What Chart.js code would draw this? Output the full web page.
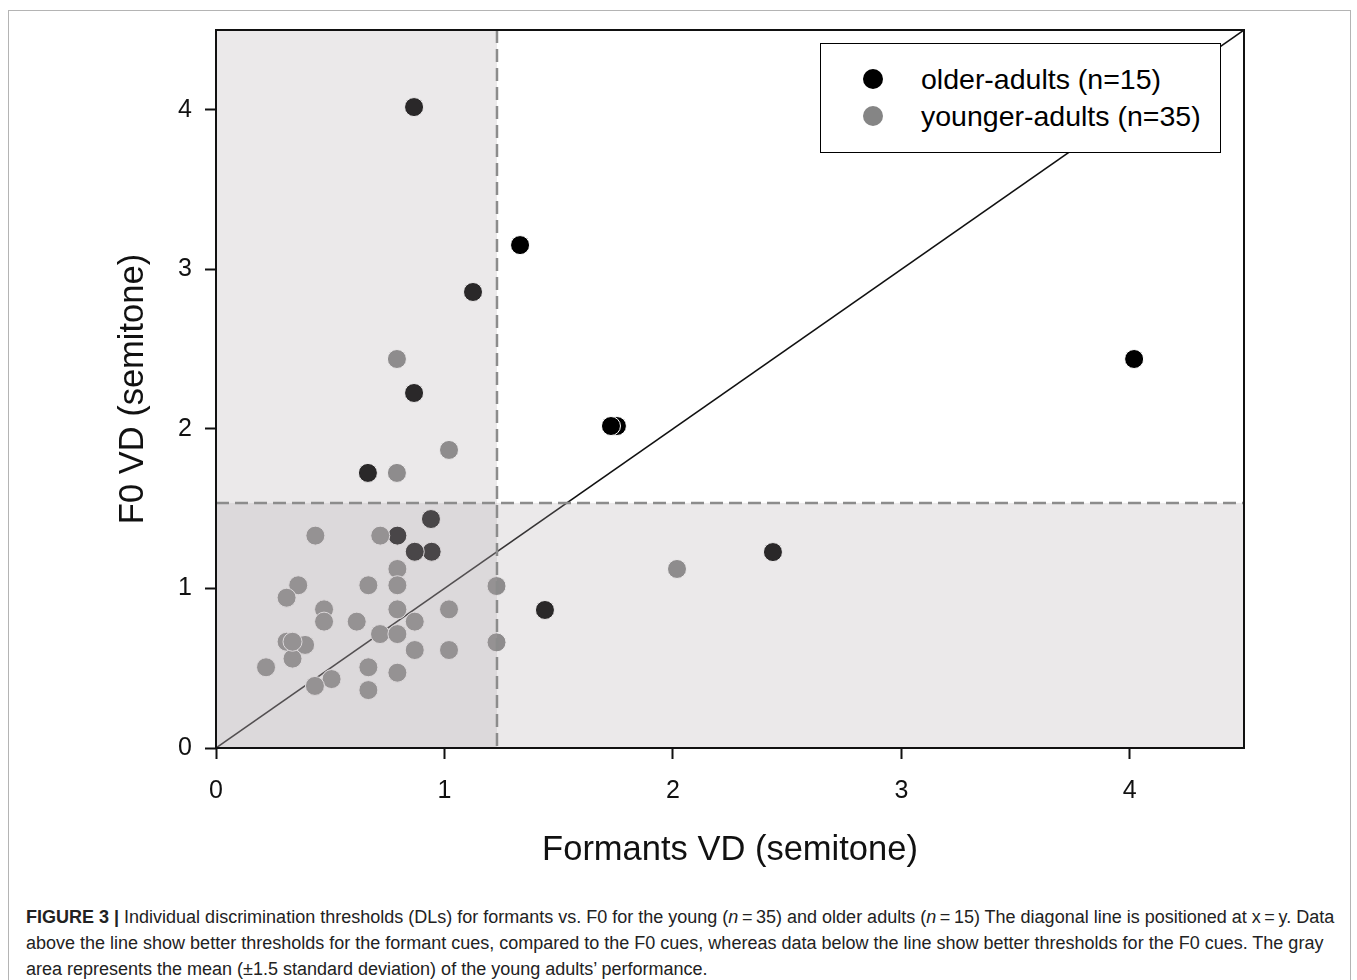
<!DOCTYPE html>
<html><head><meta charset="utf-8">
<script src="https://cdn.jsdelivr.net/npm/chart.js@4.4.0/dist/chart.umd.min.js"></script>
<style>
body{margin:0;background:#fff;width:1357px;height:980px;overflow:hidden;position:relative;font-family:"Liberation Sans",Arial,sans-serif;color:#000;}
#frame{position:absolute;left:8px;top:10px;width:1341px;height:1000px;border:1px solid #b4b4b4;}
#c{position:absolute;left:0;top:0;}
#legend{position:absolute;left:820px;top:43px;width:401px;height:110px;border:1.5px solid #000;background:#fff;box-sizing:border-box;}
.li{position:absolute;left:0;height:32px;line-height:32px;font-size:28.5px;white-space:nowrap;}
.dot{position:absolute;left:42px;top:6px;width:20px;height:20px;border-radius:50%;}
.lt{position:absolute;left:100px;top:0;}
#caption{position:absolute;left:26px;top:904px;font-size:18px;line-height:26px;color:#222;white-space:nowrap;}
</style></head>
<body>
<div id="frame"></div>
<canvas id="c" width="1357" height="880"></canvas>
<div id="legend">
  <div class="li" style="top:19px"><span class="dot" style="background:#000"></span><span class="lt">older-adults (n=15)</span></div>
  <div class="li" style="top:56px"><span class="dot" style="background:#858585"></span><span class="lt">younger-adults (n=35)</span></div>
</div>
<div id="caption"><b>FIGURE 3 |</b> Individual discrimination thresholds (DLs) for formants vs. F0 for the young (<i>n</i>&#8201;=&#8201;35) and older adults (<i>n</i>&#8201;=&#8201;15) The diagonal line is positioned at x&#8201;=&#8201;y. Data<br>above the line show better thresholds for the formant cues, compared to the F0 cues, whereas data below the line show better thresholds for the F0 cues. The gray<br>area represents the mean (±1.5 standard deviation) of the young adults’ performance.</div>
<script>
// Older adults: formants VD (x) and F0 VD (y), semitones
const olderX = [0.867, 1.331, 1.125, 0.867, 0.665, 4.019, 1.755, 1.729, 2.438, 1.440, 0.941, 0.794, 0.944, 0.870];
const olderY = [4.017, 3.152, 2.858, 2.225, 1.724, 2.438, 2.018, 2.018, 1.228, 0.865, 1.435, 1.331, 1.230, 1.230];
// Younger adults
const youngerX = [0.792, 1.020, 0.792, 0.435, 0.719, 2.018, 0.794, 0.794, 0.667, 0.360, 1.228, 0.309, 0.473, 0.473, 0.616, 0.794, 0.870, 1.020, 1.228, 0.718, 0.794, 0.870, 1.020, 0.309, 0.390, 0.335, 0.335, 0.219, 0.667, 0.794, 0.506, 0.433, 0.667];
const youngerY = [2.438, 1.868, 1.724, 1.331, 1.331, 1.122, 1.122, 1.020, 1.020, 1.020, 1.015, 0.942, 0.869, 0.792, 0.792, 0.869, 0.792, 0.869, 0.662, 0.714, 0.714, 0.614, 0.614, 0.666, 0.646, 0.560, 0.666, 0.506, 0.506, 0.472, 0.432, 0.389, 0.363];
// Axis ticks and range
const xTicks = [0, 1, 2, 3, 4];
const yTicks = [0, 1, 2, 3, 4];
const axisMax = 4.5;
// Gray area limits (young adults' mean + 1.5 SD)
const grayLimitX = 1.23;
const grayLimitY = 1.536;
// Diagonal x = y
const diagX = [0, axisMax];
const diagY = [0, axisMax];

const toPts = (xs, ys) => xs.map((v, i) => ({x: v, y: ys[i]}));

const overlayPlugin = {
  id: 'overlay',
  afterDatasetsDraw(chart) {
    const {ctx, chartArea: a, scales: {x, y}} = chart;
    const mx = x.getPixelForValue(grayLimitX);
    const my = y.getPixelForValue(grayLimitY);
    ctx.save();
    ctx.fillStyle = 'rgba(172,166,169,0.245)';
    ctx.fillRect(a.left, a.top, mx - a.left, a.bottom - a.top);
    ctx.fillRect(a.left, my, a.right - a.left, a.bottom - my);
    ctx.strokeStyle = '#8c8c8c';
    ctx.lineWidth = 2.5;
    ctx.setLineDash([13, 6]);
    ctx.beginPath(); ctx.moveTo(mx, a.top); ctx.lineTo(mx, a.bottom); ctx.stroke();
    ctx.beginPath(); ctx.moveTo(a.left, my); ctx.lineTo(a.right, my); ctx.stroke();
    ctx.setLineDash([]);
    ctx.strokeStyle = '#111';
    ctx.lineWidth = 2;
    ctx.strokeRect(a.left, a.top, a.right - a.left, a.bottom - a.top);
    ctx.restore();
  }
};

const axisCommon = (ticksArr, extra) => Object.assign({
  type: 'linear', min: 0, max: axisMax,
  afterBuildTicks: s => { s.ticks = ticksArr.map(v => ({value: v})); },
  grid: {drawOnChartArea: false, drawTicks: true, tickLength: 11, tickWidth: 2, tickColor: '#111', color: '#111'},
  border: {display: false},
}, extra);

new Chart(document.getElementById('c'), {
  data: {
    datasets: [
      {type: 'scatter', label: 'younger-adults (n=35)', data: toPts(youngerX, youngerY), order: 1,
       backgroundColor: '#858585', borderColor: '#ffffff', borderWidth: 1, pointRadius: 9.5, pointHoverRadius: 9.5},
      {type: 'scatter', label: 'older-adults (n=15)', data: toPts(olderX, olderY), order: 2,
       backgroundColor: '#000000', borderColor: '#ffffff', borderWidth: 1, pointRadius: 9.5, pointHoverRadius: 9.5},
      {type: 'line', label: 'x = y', data: toPts(diagX, diagY), order: 3,
       borderColor: '#111', borderWidth: 1.5, pointRadius: 0, fill: false, tension: 0}
    ]
  },
  options: {
    responsive: false, animation: false, events: [],
    layout: {padding: {left: 0, top: 30, right: 113, bottom: 0}},
    plugins: {legend: {display: false}, tooltip: {enabled: false}},
    scales: {
      x: axisCommon(xTicks, {
        position: 'bottom',
        afterFit: s => { s.height = 880 - 748; },
        ticks: {font: {family: 'Liberation Sans', size: 25}, color: '#111', padding: 17},
        title: {display: true, text: 'Formants VD (semitone)', color: '#111',
                font: {family: 'Liberation Sans', size: 34.5}, padding: {top: 0, bottom: 9}}
      }),
      y: axisCommon(yTicks, {
        position: 'left',
        afterFit: s => { s.width = 216; },
        ticks: {font: {family: 'Liberation Sans', size: 25}, color: '#111', padding: 13},
        title: {display: true, text: 'F0 VD (semitone)', color: '#111',
                font: {family: 'Liberation Sans', size: 34.5}, padding: {top: 113, bottom: 0}}
      })
    }
  },
  plugins: [overlayPlugin]
});
</script>
</body></html>
